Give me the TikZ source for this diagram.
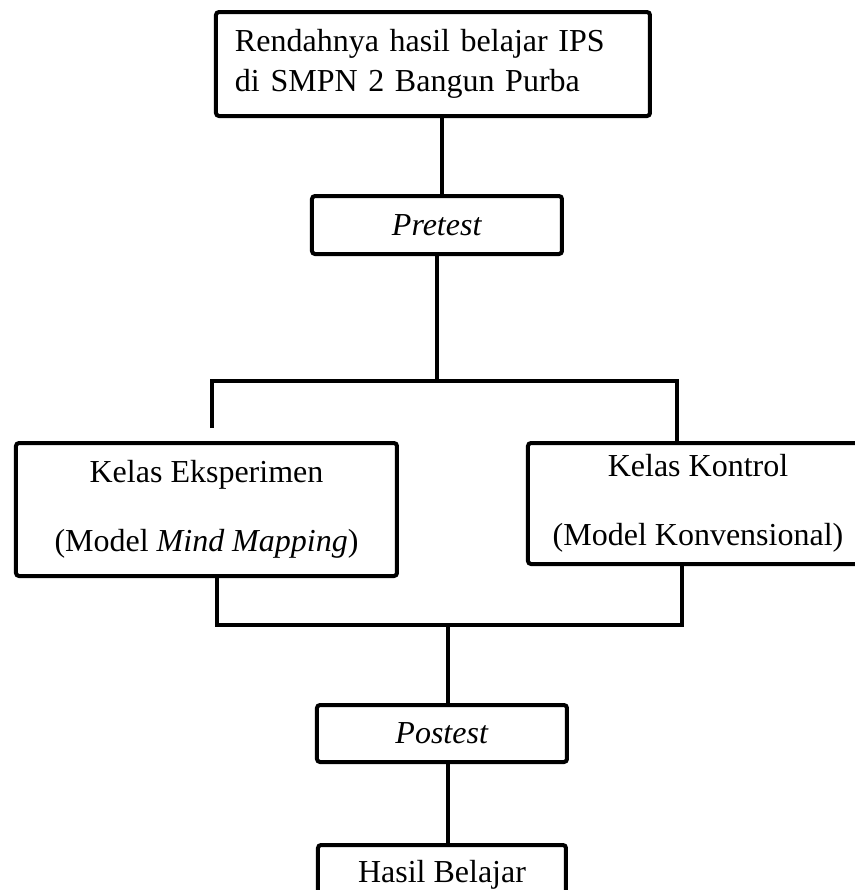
\documentclass[tikz,border=0pt]{standalone}
\usepackage{fontspec}
\setmainfont{Liberation Serif}
\usetikzlibrary{positioning}

\begin{document}
\begin{tikzpicture}[
    font=\fontsize{16}{20}\selectfont,
    kotak/.style={rectangle, draw, line width=2pt, rounded corners=1.5pt, inner sep=0pt, text centered},
    kelas/.style={kotak, font=\fontsize{16}{34.5}\selectfont, align=center, minimum height=66.5pt},
    garis/.style={draw, line width=2pt}
]
\useasboundingbox (-216.5pt,32pt) rectangle (211pt,-413pt);
% Masalah dan pretest
\node [kotak, minimum width=217pt, minimum height=52pt, text width=198pt, align=left] (masalah) at (0,0) {Rendahnya hasil belajar IPS\\di SMPN 2 Bangun Purba};
\node [kotak, minimum width=125pt, minimum height=29pt, below=38pt of masalah, xshift=2pt] (pre) {\textit{Pretest}};

% Kelas
\node [kelas, minimum width=190.5pt, below=92.5pt of pre, xshift=-115.25pt] (eksperimen) {Kelas Eksperimen\\(Model \textit{Mind Mapping})};
\node [kelas, minimum width=170pt, minimum height=60.5pt, below=92.5pt of pre, xshift=130.5pt] (kontrol) {Kelas Kontrol\\(Model Konvensional)};

% Postest dan hasil
\node [kotak, minimum width=125pt, minimum height=28.5pt, below=223.5pt of pre, xshift=2.5pt] (post) {\textit{Postest}};
\node [kotak, minimum width=124pt, minimum height=30pt, below=39.5pt of post] (hasil) {Hasil Belajar};

% Cabang
\coordinate [below=62.5pt of pre] (cabang);
\coordinate [left=112.5pt of cabang] (cabangkiri);
\coordinate [right=120pt of cabang] (cabangkanan);
\coordinate [below=23.5pt of eksperimen.south, xshift=5.25pt] (gabungkiri);

% Connections
\path [garis] ([xshift=2.5pt]pre.north |- masalah.south) -- ([xshift=2.5pt]pre.north);
\path [garis] (pre.south) -- (cabang);
\path [garis] ([yshift=6.5pt]eksperimen.north -| cabangkiri) -- (cabangkiri) -- (cabangkanan) -- (kontrol.north -| cabangkanan);
\path [garis] ([xshift=5.25pt]eksperimen.south) -- (gabungkiri) -| ([xshift=-8pt]kontrol.south);
\path [garis] ([xshift=3pt]post.north |- gabungkiri) -- ([xshift=3pt]post.north);
\path [garis] ([xshift=3pt]post.south) -- ([xshift=3pt]hasil.north);
\end{tikzpicture}
\end{document}
